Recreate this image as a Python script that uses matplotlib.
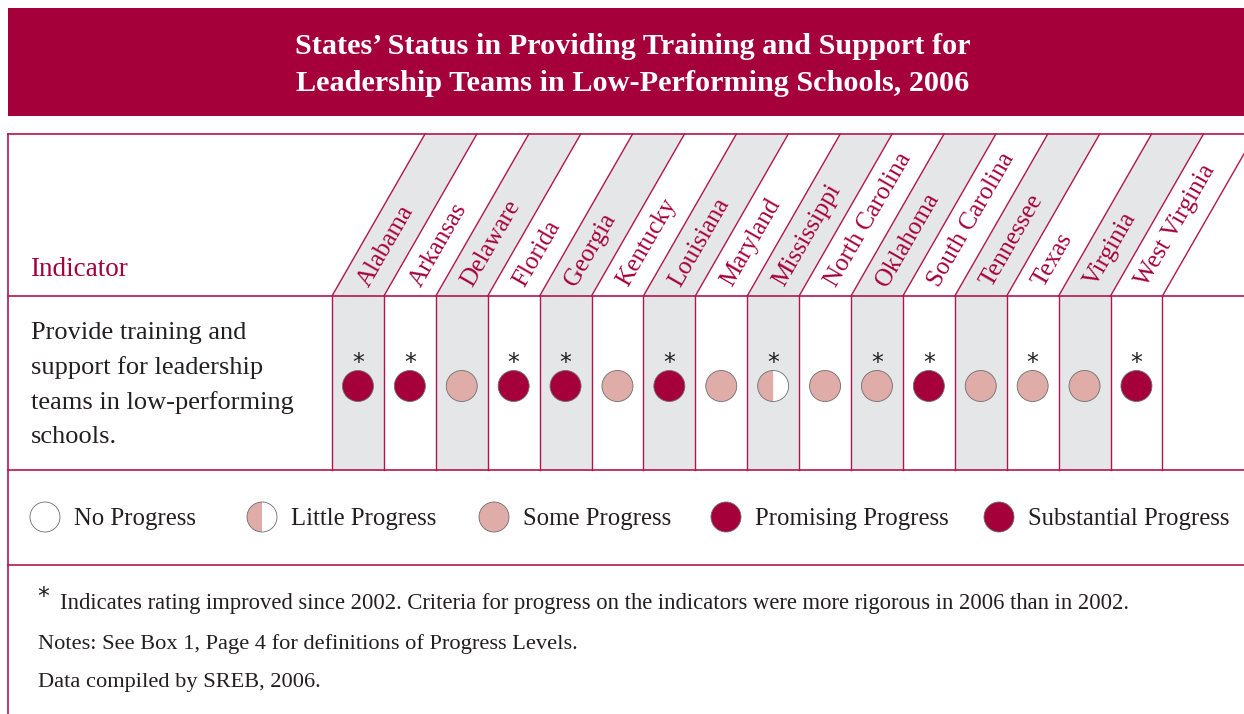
import numpy as np
import matplotlib.pyplot as plt
from matplotlib.patches import Rectangle, Polygon, Circle, Wedge

# ---- data ----
states = ["Alabama", "Arkansas", "Delaware", "Florida", "Georgia", "Kentucky",
          "Louisiana", "Maryland", "Mississippi", "North Carolina", "Oklahoma",
          "South Carolina", "Tennessee", "Texas", "Virginia", "West Virginia"]
status = ["Promising", "Promising", "Some", "Promising", "Promising", "Some",
          "Promising", "Some", "Little", "Some", "Some",
          "Promising", "Some", "Some", "Some", "Promising"]
improved = [1, 1, 0, 1, 1, 0, 1, 0, 1, 0, 1, 1, 0, 1, 0, 1]
levels = ["No Progress", "Little Progress", "Some Progress",
          "Promising Progress", "Substantial Progress"]
title = "States\u2019 Status in Providing Training and Support for\nLeadership Teams in Low-Performing Schools, 2006"
indicator = "Provide training and\nsupport for leadership\nteams in low-performing\nschools."
notes = ["Notes: See Box 1, Page 4 for definitions of Progress Levels.",
         "Data compiled by SREB, 2006."]
star_note = "Indicates rating improved since 2002. Criteria for progress on the indicators were more rigorous in 2006 than in 2002."

# ---- style ----
CRIMSON = "#a5003a"
LINE = "#b3164a"
PINK = "#dfaca7"
GRAY = "#e5e6e8"
TXT = "#231f20"
SERIF = "Liberation Serif"
plt.rcParams['font.family'] = SERIF

W, H = 1244, 714
fig = plt.figure(figsize=(W / 100, H / 100), dpi=100)
ax = fig.add_axes([0, 0, 1, 1])
ax.set_xlim(0, W)
ax.set_ylim(H, 0)
ax.axis("off")

# banner
ax.add_patch(Rectangle((8, 8), W - 8, 108, fc=CRIMSON, ec="none"))
ax.text(633, 65, title, color="white", fontsize=21.8, fontweight="bold",
        ha="center", va="center", linespacing=1.5)

# table geometry
top, hdr, row, leg = 134, 296, 470, 565
x0, cw = 332, 51.9
slope = 93 / (hdr - top)   # horizontal shift per pixel going up

def draw_circle(cx, cy, r, kind):
    ec = "#6d6e71"
    if kind == "Little":
        ax.add_patch(Circle((cx, cy), r, fc="white", ec="none", zorder=3))
        ax.add_patch(Wedge((cx, cy), r, 90, 270, fc=PINK, ec="none", zorder=3))
    else:
        fc = {"No": "white", "Some": PINK, "Promising": CRIMSON,
              "Substantial": CRIMSON}[kind]
        ax.add_patch(Circle((cx, cy), r, fc=fc, ec="none", zorder=3))
    ax.add_patch(Circle((cx, cy), r, fc="none", ec=ec, lw=0.6, zorder=4))

n = len(states)
for i, (name, st, imp) in enumerate(zip(states, status, improved)):
    xl = x0 + i * cw
    xr = xl + cw
    if i % 2 == 0:
        ax.add_patch(Rectangle((xl, hdr), cw, row - hdr, fc=GRAY, ec="none"))
        dxt = slope * (hdr - top)
        ax.add_patch(Polygon([(xl, hdr), (xr, hdr), (xr + dxt, top), (xl + dxt, top)],
                             closed=True, fc=GRAY, ec="none"))
    # state label along the slanted band
    yb = 285
    xc = xl + slope * (hdr - yb) + cw / 2 - 1
    ax.text(xc, yb, name, rotation=60, rotation_mode="anchor", ha="left", va="center",
            color=CRIMSON, fontsize=18)
    draw_circle(xl + cw / 2, 386, 15.5, st)
    if imp:
        ax.text(xl + cw / 2, 363, "*", ha="center", va="center", fontsize=17,
                color=TXT, family="DejaVu Sans")

# grid lines
for i in range(n + 1):
    xl = x0 + i * cw
    ax.plot([xl, xl], [hdr, row], color=LINE, lw=1.0)
    ax.plot([xl, xl + slope * (hdr - top)], [hdr, top], color=LINE, lw=1.0)
for y in (top, hdr, row, leg):
    ax.plot([8, W], [y, y], color=LINE, lw=1.2)
ax.plot([8, 8], [top, H], color=LINE, lw=1.2)

# indicator column
ax.text(30, 270, "Indicator", color=CRIMSON, fontsize=19.5, ha="left", va="center")
ax.text(31, 385, indicator, color=TXT, fontsize=19, ha="left", va="center",
        linespacing=1.68)

# legend
leg_x = [45, 262, 494, 726, 999]
leg_kind = ["No", "Little", "Some", "Promising", "Substantial"]
for lx, k, lab in zip(leg_x, leg_kind, levels):
    draw_circle(lx, 517, 15, k)
    ax.text(lx + 29, 519.5, lab, color=TXT, fontsize=17.8, ha="left", va="center")

# notes
ax.text(43, 597, "*", color=TXT, fontsize=17, ha="center", va="center",
        family="DejaVu Sans")
ax.text(60, 603, star_note, color=TXT, fontsize=16.3, ha="left", va="center")
for k, t in enumerate(notes):
    ax.text(38, 644 + 39 * k, t, color=TXT, fontsize=16.1, ha="left", va="center")

fig.savefig("out.png", dpi=100)
